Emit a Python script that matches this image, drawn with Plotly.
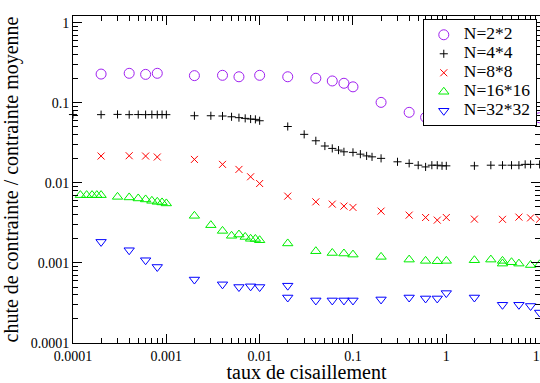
import plotly.graph_objects as go

# ---- data ----
x_n2 = [2e-4, 4e-4, 6e-4, 8e-4, 2e-3, 4e-3, 6e-3, 1e-2, 2e-2, 4e-2, 6e-2, 8e-2, 0.1,
        0.2, 0.4, 0.6, 0.8, 1, 2, 4, 6, 8, 10]
y_n2 = [0.228, 0.233, 0.226, 0.233, 0.218, 0.22, 0.211, 0.22, 0.211, 0.202, 0.187, 0.175, 0.158,
        0.101, 0.0759, 0.0657, 0.0657, 0.0646, 0.0657, 0.0646, 0.0682, 0.0625, 0.065]

x_n4 = [1e-4, 2e-4, 3e-4, 4e-4, 5e-4, 6e-4, 7e-4, 8e-4, 9e-4, 1e-3,
        2e-3, 3e-3, 4e-3, 5e-3, 6e-3, 7e-3, 8e-3, 9e-3, 1e-2,
        2e-2, 3e-2, 4e-2, 5e-2, 6e-2, 7e-2, 8e-2, 0.1, 0.12, 0.14, 0.16,
        0.2, 0.3, 0.4, 0.5, 0.6, 0.7, 0.8, 0.9, 1, 2, 3, 4, 5, 6, 7, 8, 10]
y_n4 = [0.0712, 0.071, 0.0715, 0.071, 0.0712, 0.071, 0.0712, 0.071, 0.0712, 0.071,
        0.0688, 0.0688, 0.0683, 0.0668, 0.0651, 0.0638, 0.0626, 0.062, 0.0596,
        0.0505, 0.0403, 0.0335, 0.0288, 0.0269, 0.0256, 0.0244, 0.024, 0.0228, 0.0217, 0.0211,
        0.0202, 0.0183, 0.0175, 0.0166, 0.0158, 0.0166, 0.0166, 0.0163, 0.0163, 0.0163, 0.0166,
        0.0166, 0.0166, 0.0166, 0.017, 0.017, 0.017]

x_n8 = [2e-4, 4e-4, 6e-4, 8e-4, 2e-3, 4e-3, 6e-3, 8e-3, 1e-2, 2e-2, 4e-2, 6e-2, 8e-2, 0.1,
        0.2, 0.4, 0.6, 0.8, 1, 2, 4, 6, 8, 10]
y_n8 = [0.0216, 0.0218, 0.0216, 0.021, 0.0196, 0.017, 0.0147, 0.0119, 0.0098, 0.00682,
        0.00579, 0.00542, 0.00512, 0.00493, 0.00443, 0.00395, 0.00369, 0.00342, 0.00369,
        0.00352, 0.0035, 0.00373, 0.00365, 0.00352]

x_n16 = [1.2e-4, 1.4e-4, 1.6e-4, 1.8e-4, 2e-4, 3e-4, 4e-4, 5e-4, 6e-4, 7e-4, 8e-4, 9e-4, 1e-3,
         2e-3, 3e-3, 4e-3, 5e-3, 6e-3, 7e-3, 8e-3, 9e-3, 1e-2,
         2e-2, 4e-2, 6e-2, 8e-2, 0.1, 0.2, 0.4, 0.6, 0.8, 1, 2, 3, 4, 4, 5, 6, 8, 10]
y_n16 = [0.00702, 0.00702, 0.00702, 0.00702, 0.00702, 0.00668, 0.00657, 0.00638, 0.0062,
         0.00596, 0.00579, 0.00569, 0.00553,
         0.00387, 0.00296, 0.00251, 0.00218, 0.00226, 0.00211, 0.002, 0.00199, 0.00192,
         0.00175, 0.0014, 0.00133, 0.00131, 0.00127, 0.00119, 0.0011, 0.00106, 0.00105,
         0.00106, 0.00108, 0.0011, 0.00106, 0.00098, 0.00102, 0.00098, 0.00094, 0.00096]

x_n32 = [2e-4, 4e-4, 6e-4, 8e-4, 2e-3, 4e-3, 6e-3, 8e-3, 1e-2, 2e-2, 2e-2, 4e-2, 6e-2, 8e-2,
         0.1, 0.2, 0.4, 0.6, 0.8, 1, 2, 4, 6, 8, 10]
y_n32 = [0.00183, 0.00144, 0.00108, 0.00089, 0.00062, 0.00054, 0.0005, 0.00051, 0.0005,
         0.00052, 0.00037, 0.00034, 0.00034, 0.00034, 0.00034, 0.00035, 0.00037, 0.00036,
         0.00036, 0.00042, 0.00037, 0.0003, 0.0003, 0.00029, 0.00024]

names = ["N=2*2", "N=4*4", "N=8*8", "N=16*16", "N=32*32"]

x_tickvals = [1e-4, 1e-3, 1e-2, 1e-1, 1, 10]
x_ticktext = ["0.0001", "0.001", "0.01", "0.1", "1", "10"]
y_tickvals = [1e-4, 1e-3, 1e-2, 1e-1, 1]
y_ticktext = ["0.0001", "0.001", "0.01", "0.1", "1"]

# ---- figure ----
FONT = "Liberation Serif, Times New Roman, Times, serif"
series = [
    (x_n2, y_n2, "circle-open", 10, "#a020f0"),
    (x_n4, y_n4, "cross-thin-open", 5.8, "#000000"),
    (x_n8, y_n8, "x-thin-open", 7, "#ff0000"),
    (x_n16, y_n16, "triangle-up-open", 9, "#00ee00"),
    (x_n32, y_n32, "triangle-down-open", 9, "#0000ff"),
]

fig = go.Figure()
for (xs, ys, sym, sz, col), nm in zip(series, names):
    fig.add_trace(go.Scatter(
        x=xs, y=ys, mode="markers", cliponaxis=False,
        name="<span style='font-size:17.5px'>" + nm + "</span>",
        marker=dict(symbol=sym, size=sz, color=col, line=dict(color=col, width=1)),
    ))

minor_vals = [k * 10 ** e for e in range(-4, 1) for k in range(2, 10)]

axis_common = dict(
    type="log", showgrid=False, zeroline=False, automargin=False,
    showline=True, linecolor="black", linewidth=1, mirror="ticks",
    ticks="inside", ticklen=9, tickcolor="black", tickwidth=1,
    tickfont=dict(family=FONT, size=14, color="black"),
    minor=dict(ticks="inside", ticklen=5, tickcolor="black", tickwidth=1,
               tickvals=minor_vals, showgrid=False),
)

fig.update_layout(
    width=540, height=383, autosize=False,
    margin=dict(l=73, r=0, t=16, b=40, autoexpand=False),
    paper_bgcolor="white", plot_bgcolor="white",
    font=dict(family=FONT, color="black"),
    xaxis=dict(axis_common, range=[-4, 1.004], tickvals=x_tickvals, ticktext=x_ticktext,
               ticklabeloverflow="allow",
               title=dict(text="taux de cisaillement", font=dict(family=FONT, size=20),
                          standoff=4)),
    yaxis=dict(axis_common, range=[-4, 0.083], tickvals=y_tickvals, ticktext=y_ticktext,
               title=dict(text="chute de contrainte / contrainte moyenne",
                          font=dict(family=FONT, size=20), standoff=6)),
    legend=dict(x=0.749, y=0.99, xanchor="left", yanchor="top",
                bgcolor="white", bordercolor="black", borderwidth=1,
                font=dict(family=FONT, size=10, color="black"),
                itemwidth=30, tracegroupgap=0),
    showlegend=True,
)

fig.write_html("out.html", config={"displayModeBar": False, "responsive": False},
               post_script="document.body.style.margin='0';document.body.style.overflow='hidden';")
